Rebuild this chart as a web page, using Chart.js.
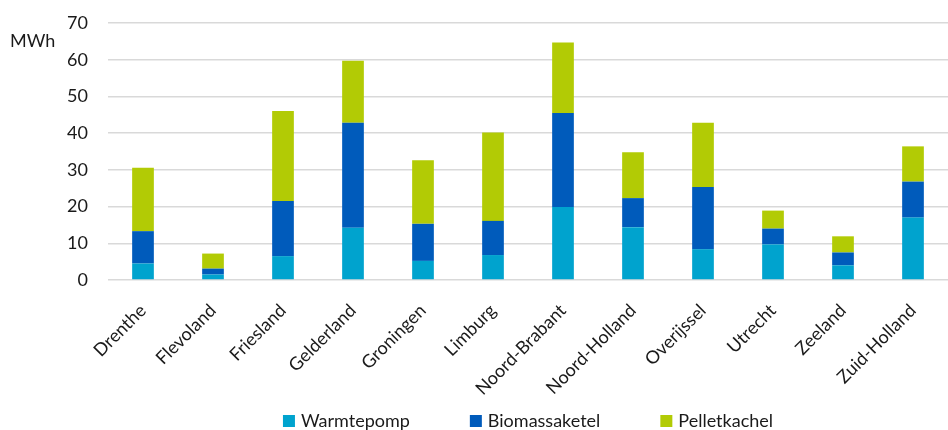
<!DOCTYPE html>
<html>
<head>
<meta charset="utf-8">
<script src="https://cdn.jsdelivr.net/npm/chart.js@4/dist/chart.umd.min.js"></script>
<style>
  html, body { margin: 0; padding: 0; background: #ffffff; }
  #wrap { width: 948px; height: 430px; position: relative; overflow: hidden; }
</style>
</head>
<body>
<div id="wrap"><canvas id="chart"></canvas></div>
<script>
// Provinces and installed capacity per technique (MWh)
const provinces = ['Drenthe', 'Flevoland', 'Friesland', 'Gelderland', 'Groningen', 'Limburg',
  'Noord-Brabant', 'Noord-Holland', 'Overijssel', 'Utrecht', 'Zeeland', 'Zuid-Holland'];
const warmtepomp    = [4.5, 1.5, 6.5, 14.2, 5.2, 6.8, 19.9, 14.4, 8.4, 9.7, 4.0, 17.0];
const biomassaketel = [8.8, 1.6, 15.0, 28.6, 10.1, 9.3, 25.6, 7.9, 16.9, 4.3, 3.5, 9.8];
const pelletkachel  = [17.3, 4.1, 24.5, 16.9, 17.3, 24.1, 19.2, 12.5, 17.5, 4.9, 4.4, 9.6];
const yTicks = [0, 10, 20, 30, 40, 50, 60, 70];
const unitLabel = 'MWh';

const FONT = 'Lato, "Open Sans", sans-serif';
const FONT_SIZE = 18;
const TEXT = '#1a1a1a';

// Unit label drawn horizontally beside the top of the y axis
const unitPlugin = {
  id: 'unitLabel',
  afterDraw(chart) {
    const ctx = chart.ctx;
    const area = chart.chartArea;
    ctx.save();
    ctx.font = FONT_SIZE + 'px ' + FONT;
    ctx.fillStyle = TEXT;
    ctx.textAlign = 'left';
    ctx.textBaseline = 'middle';
    ctx.fillText(unitLabel, 10, area.top + 18);
    ctx.restore();
  }
};

// Legend row centred under the plot, built from the datasets
const legendPlugin = {
  id: 'bottomLegend',
  afterDraw(chart) {
    const ctx = chart.ctx;
    const area = chart.chartArea;
    const box = 12, gapText = 6, gapItem = 60;
    const y = chart.height - 9;
    ctx.save();
    ctx.font = FONT_SIZE + 'px ' + FONT;
    ctx.textBaseline = 'middle';
    ctx.textAlign = 'left';
    const items = chart.data.datasets.map(ds => ({
      text: ds.label, color: ds.backgroundColor,
      w: box + gapText + ctx.measureText(ds.label).width
    }));
    const total = items.reduce((s, it) => s + it.w, 0) + gapItem * (items.length - 1);
    let x = (area.left + area.right) / 2 - total / 2;
    items.forEach(it => {
      ctx.fillStyle = it.color;
      ctx.fillRect(x, y - box / 2, box, box);
      ctx.fillStyle = TEXT;
      ctx.fillText(it.text, x + box + gapText, y);
      x += it.w + gapItem;
    });
    ctx.restore();
  }
};

const common = { barPercentage: 0.31, categoryPercentage: 1.0, borderWidth: 0 };

new Chart(document.getElementById('chart'), {
  type: 'bar',
  data: {
    labels: provinces,
    datasets: [
      { label: 'Warmtepomp', data: warmtepomp, backgroundColor: '#00A3CE', ...common },
      { label: 'Biomassaketel', data: biomassaketel, backgroundColor: '#005BBB', ...common },
      { label: 'Pelletkachel', data: pelletkachel, backgroundColor: '#B2CB05', ...common }
    ]
  },
  options: {
    responsive: true,
    maintainAspectRatio: false,
    animation: false,
    // the plot runs slightly past the right edge of the canvas
    layout: { padding: { left: 0, right: -13, top: 23, bottom: 0 } },
    plugins: {
      legend: { display: false },
      tooltip: { enabled: false }
    },
    scales: {
      x: {
        stacked: true,
        grid: { display: false },
        border: { display: false },
        afterFit(scale) { scale.height = 150; },
        ticks: {
          font: { family: FONT, size: FONT_SIZE },
          color: TEXT,
          minRotation: 45,
          maxRotation: 45,
          autoSkip: false,
          padding: 12
        }
      },
      y: {
        stacked: true,
        min: 0,
        max: 70,
        afterBuildTicks(scale) { scale.ticks = yTicks.map(v => ({ value: v })); },
        afterFit(scale) {
          scale.width = 108;
          scale.paddingTop = 0;
          scale.paddingBottom = 0;
        },
        grid: { color: '#D9D9D9', lineWidth: 1.5, drawTicks: false },
        border: { display: false },
        ticks: {
          font: { family: FONT, size: FONT_SIZE },
          color: TEXT,
          padding: 20
        }
      }
    }
  },
  plugins: [unitPlugin, legendPlugin]
});
</script>
</body>
</html>
